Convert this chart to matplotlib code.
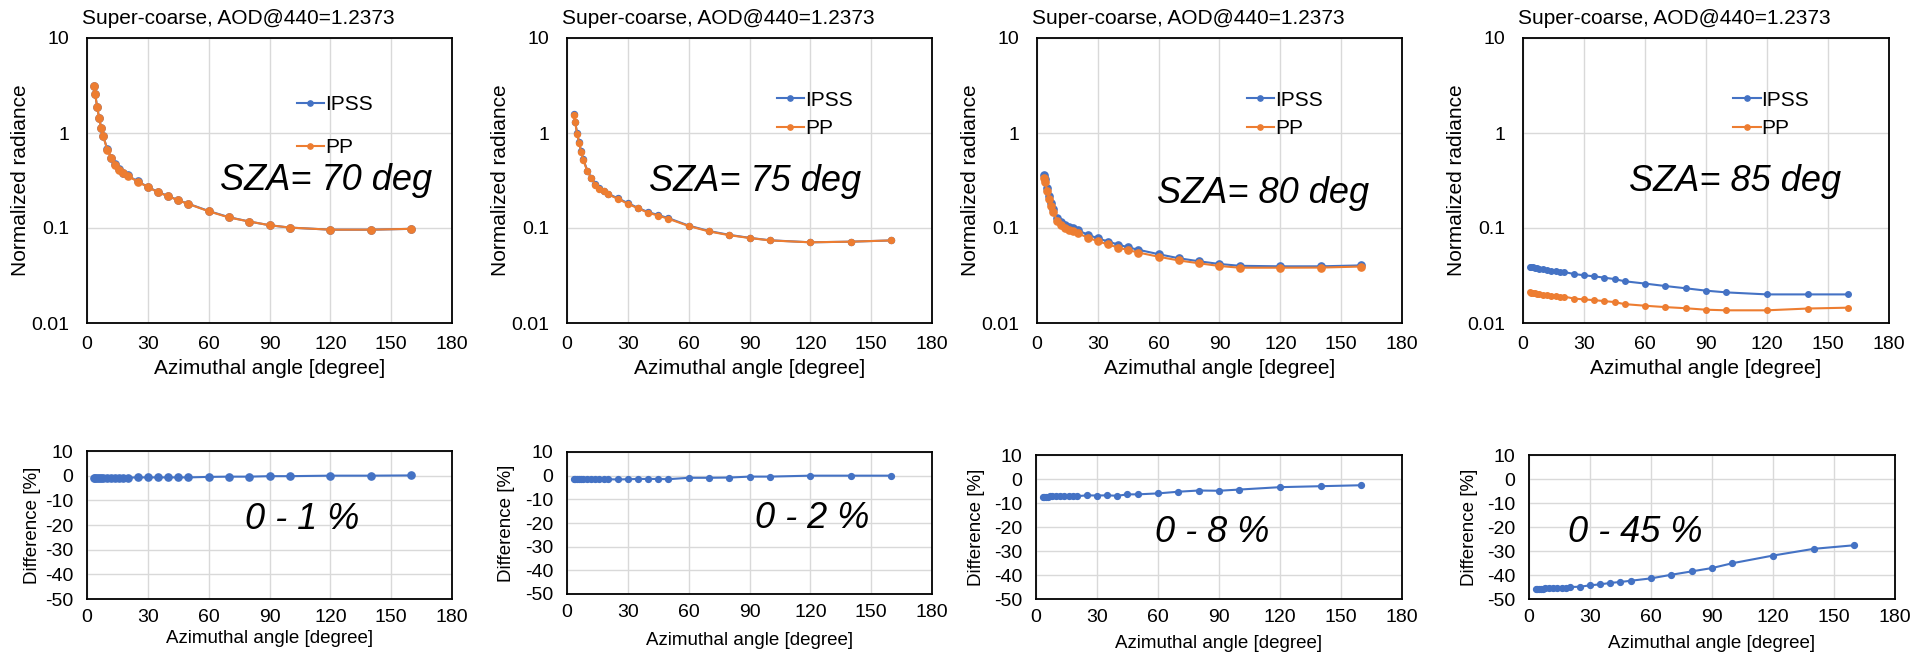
import numpy as np
import matplotlib
matplotlib.use("Agg")
import matplotlib.pyplot as plt
from matplotlib.lines import Line2D

plt.rcParams["font.family"] = ["Liberation Sans", "DejaVu Sans"]
plt.rcParams["axes.unicode_minus"] = False

# ── data ─────────────────────────────────────────────────────────────────────
azimuth = [3.5, 4, 5, 6, 7, 8, 10, 12, 14, 16, 18, 20, 25, 30, 35, 40, 45, 50,
           60, 70, 80, 90, 100, 120, 140, 160]

sza_labels = ["SZA= 70 deg", "SZA= 75 deg", "SZA= 80 deg", "SZA= 85 deg"]
diff_labels = ["0 - 1 %", "0 - 2 %", "0 - 8 %", "0 - 45 %"]
title = "Super-coarse, AOD@440=1.2373"

ipss_70 = [3.12, 2.59, 1.89, 1.44, 1.14, 0.927, 0.675, 0.550, 0.468, 0.414,
           0.382, 0.359, 0.309, 0.272, 0.239, 0.218, 0.196, 0.180, 0.151, 0.130,
           0.117, 0.107, 0.101, 0.096, 0.096, 0.098]
pp_70 = [3.10, 2.57, 1.88, 1.43, 1.13, 0.920, 0.670, 0.546, 0.464, 0.411,
         0.379, 0.356, 0.307, 0.270, 0.237, 0.216, 0.195, 0.179, 0.150, 0.129,
         0.117, 0.107, 0.101, 0.096, 0.096, 0.098]

ipss_75 = [1.58, 1.32, 0.995, 0.797, 0.640, 0.533, 0.402, 0.337, 0.291, 0.263,
           0.247, 0.230, 0.206, 0.183, 0.163, 0.147, 0.137, 0.127, 0.106, 0.093,
           0.0847, 0.0788, 0.0743, 0.0707, 0.0718, 0.074]
pp_75 = [1.56, 1.30, 0.98, 0.785, 0.630, 0.525, 0.396, 0.332, 0.287, 0.259,
         0.243, 0.227, 0.203, 0.180, 0.161, 0.145, 0.135, 0.125, 0.105, 0.092,
         0.084, 0.0785, 0.074, 0.0707, 0.0718, 0.074]

ipss_80 = [0.365, 0.329, 0.265, 0.217, 0.185, 0.157, 0.128, 0.116, 0.108, 0.103,
           0.099, 0.0953, 0.085, 0.078, 0.072, 0.067, 0.0625, 0.059, 0.053, 0.048,
           0.0446, 0.0418, 0.040, 0.0395, 0.0395, 0.0404]
pp_80 = [0.338, 0.305, 0.246, 0.201, 0.172, 0.146, 0.119, 0.108, 0.100, 0.0956,
         0.0919, 0.0884, 0.0792, 0.0726, 0.0671, 0.0623, 0.0585, 0.0552, 0.0498,
         0.0455, 0.0425, 0.0398, 0.0382, 0.0382, 0.0383, 0.0393]

ipss_85 = [0.0388, 0.0387, 0.0385, 0.0379, 0.0376, 0.0373, 0.0366, 0.0358,
           0.0355, 0.0350, 0.0347, 0.0345, 0.0328, 0.0318, 0.0310, 0.0300,
           0.0290, 0.0275, 0.0260, 0.0245, 0.0232, 0.0219, 0.0210, 0.0200,
           0.0200, 0.0200]
pp_85 = [0.0210, 0.0209, 0.0209, 0.0205, 0.0204, 0.0203, 0.0199, 0.0195,
         0.0194, 0.0191, 0.0190, 0.0190, 0.0181, 0.0177, 0.0174, 0.0170,
         0.0166, 0.0158, 0.0152, 0.0147, 0.0143, 0.0138, 0.0136, 0.0136,
         0.0142, 0.0145]

diff_70 = [-0.8, -0.8, -0.8, -0.8, -0.8, -0.8, -0.8, -0.8, -0.8, -0.8, -0.8,
           -0.8, -0.7, -0.7, -0.7, -0.7, -0.7, -0.7, -0.5, -0.4, -0.4, -0.2,
           -0.2, 0.0, 0.0, 0.1]
diff_75 = [-1.5, -1.5, -1.5, -1.5, -1.5, -1.5, -1.5, -1.5, -1.5, -1.5, -1.5,
           -1.5, -1.6, -1.5, -1.4, -1.4, -1.4, -1.5, -0.9, -0.9, -0.8, -0.4,
           -0.4, 0.0, 0.0, 0.0]
diff_80 = [-7.3, -7.3, -7.3, -7.3, -7.2, -7.2, -7.2, -7.2, -7.2, -7.2, -7.2,
           -7.2, -6.8, -6.9, -6.8, -7.0, -6.4, -6.4, -6.0, -5.3, -4.8, -4.9,
           -4.4, -3.4, -3.0, -2.6]
diff_85 = [-45.9, -45.9, -45.8, -45.8, -45.8, -45.6, -45.5, -45.5, -45.4,
           -45.4, -45.3, -45.0, -44.9, -44.3, -43.9, -43.3, -42.9, -42.4,
           -41.4, -39.9, -38.5, -37.1, -35.1, -31.9, -29.1, -27.6]

ipss_all = [ipss_70, ipss_75, ipss_80, ipss_85]
pp_all = [pp_70, pp_75, pp_80, pp_85]
diff_all = [diff_70, diff_75, diff_80, diff_85]

x_ticks = [0, 30, 60, 90, 120, 150, 180]
rad_ticks = [0.01, 0.1, 1, 10]
rad_ticklabels = ["0.01", "0.1", "1", "10"]
diff_ticks = [10, 0, -10, -20, -30, -40, -50]

# ── layout (pixel-matched) ───────────────────────────────────────────────────
BLUE, ORANGE, GRID = "#4472C4", "#ED7D31", "#D9D9D9"
W, H = 1915, 656
top_boxes = [(87, 38, 365, 285), (567, 38, 365, 285),
             (1037, 38, 365, 285), (1523, 38, 366, 285)]
bot_boxes = [(87, 451, 365, 148), (567, 452, 365, 142),
             (1036, 455, 366, 144), (1529, 455, 366, 144)]
top_ms = [5.2, 4.3, 5.2, 4.0]
bot_ms = [5.2, 4.2, 4.2, 4.2]
sza_pos = [(0.656, 0.50), (0.515, 0.495), (0.62, 0.456), (0.579, 0.495)]
diff_pos = [(0.59, 0.534), (0.673, 0.535), (0.482, 0.465), (0.29, 0.465)]
leg_y = [0.80, 0.815, 0.815, 0.815]
leg_spacing = [1.15, 0.45, 0.45, 0.45]
bot_ylab_x = [-0.125, -0.142, -0.139, -0.139]
bot_xlab_y = [-0.21, -0.27, -0.25, -0.25]


def box(b):
    x, y, w, h = b
    return [x / W, 1 - (y + h) / H, w / W, h / H]


def style(ax):
    ax.set_xlim(0, 180)
    ax.set_xticks(x_ticks)
    ax.grid(True, color=GRID, lw=1.0)
    ax.set_axisbelow(True)
    for s in ax.spines.values():
        s.set_color("black")
        s.set_linewidth(1.3)
    ax.tick_params(length=0, labelsize=14)


fig = plt.figure(figsize=(W / 100, H / 100), dpi=100)

for i in range(4):
    # radiance panel
    ax = fig.add_axes(box(top_boxes[i]))
    ax.plot(azimuth, ipss_all[i], color=BLUE, lw=1.5, marker="o",
            ms=top_ms[i], label="IPSS")
    ax.plot(azimuth, pp_all[i], color=ORANGE, lw=1.5, marker="o",
            ms=top_ms[i], label="PP")
    ax.set_yscale("log")
    ax.set_ylim(0.01, 10)
    ax.set_yticks(rad_ticks)
    ax.set_yticklabels(rad_ticklabels)
    ax.yaxis.set_minor_locator(plt.NullLocator())
    style(ax)
    ax.tick_params(axis="y", pad=13)
    ax.tick_params(axis="x", pad=9)
    ax.set_ylabel("Normalized radiance", fontsize=15)
    ax.yaxis.set_label_coords(-0.155, 0.5)
    ax.set_xlabel("Azimuthal angle [degree]", fontsize=15)
    ax.xaxis.set_label_coords(0.5, -0.125)
    ax.text(-0.014, 1.07, title, transform=ax.transAxes, fontsize=15,
            ha="left", va="center")
    ax.text(*sza_pos[i], sza_labels[i], transform=ax.transAxes, fontsize=26,
            style="italic", ha="center", va="center")
    handles = [Line2D([], [], color=BLUE, lw=1.5, marker="o", ms=3.8),
               Line2D([], [], color=ORANGE, lw=1.5, marker="o", ms=3.8)]
    ax.legend(handles, ["IPSS", "PP"], loc="upper left",
              bbox_to_anchor=(0.575, leg_y[i]), frameon=False, fontsize=15,
              handlelength=1.3, handletextpad=0.05, borderpad=0,
              borderaxespad=0, labelspacing=leg_spacing[i])

    # difference panel
    ax = fig.add_axes(box(bot_boxes[i]))
    ax.plot(azimuth, diff_all[i], color=BLUE, lw=1.5, marker="o",
            ms=bot_ms[i])
    ax.set_ylim(-50, 10)
    ax.set_yticks(diff_ticks)
    style(ax)
    ax.tick_params(axis="y", pad=10)
    ax.tick_params(axis="x", pad=7)
    ax.set_ylabel("Difference [%]", fontsize=13.5)
    ax.yaxis.set_label_coords(bot_ylab_x[i], 0.5)
    ax.set_xlabel("Azimuthal angle [degree]", fontsize=13.5)
    ax.xaxis.set_label_coords(0.5, bot_xlab_y[i])
    ax.text(*diff_pos[i], diff_labels[i], transform=ax.transAxes, fontsize=26,
            style="italic", ha="center", va="center")

fig.savefig("out.png", dpi=100)
